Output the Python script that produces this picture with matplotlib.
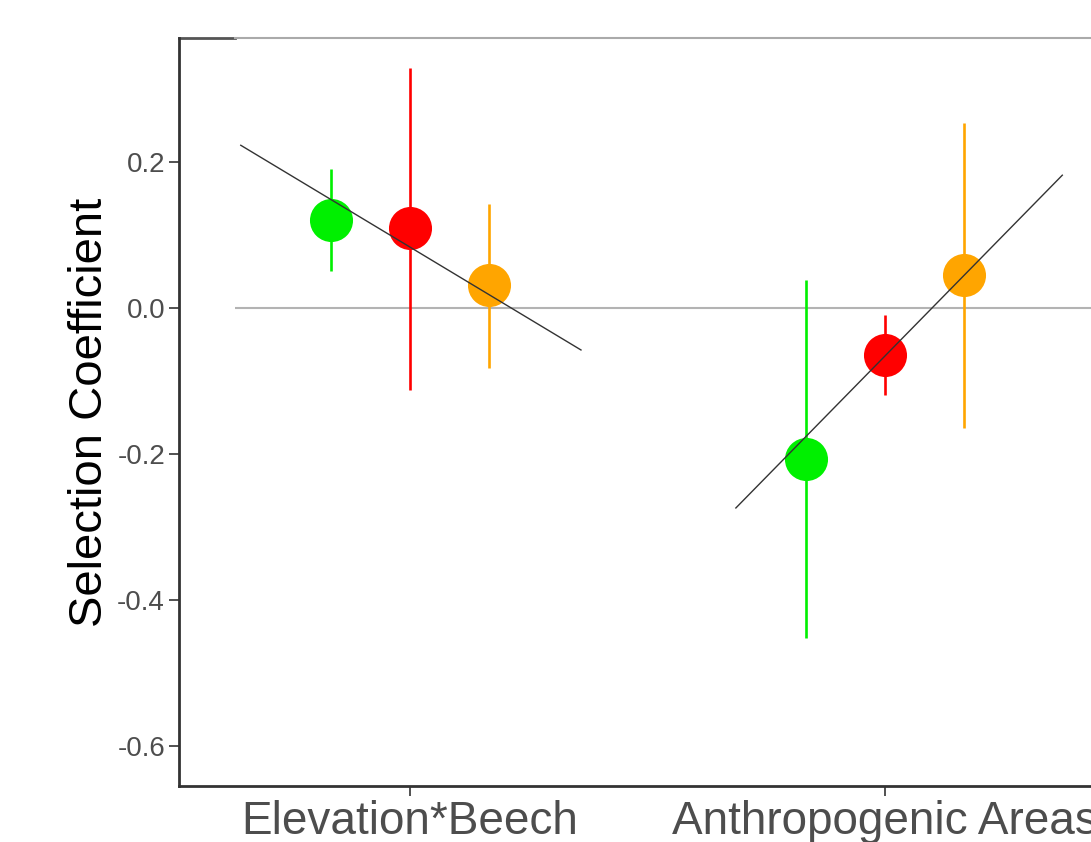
import matplotlib.pyplot as plt
import numpy as np

plt.rcParams['font.family'] = ['Liberation Sans', 'DejaVu Sans']

categories = ["Elevation*Beech", "Anthropogenic Areas"]
groups = ["green", "red", "orange"]
colors = ["#00f000", "#ff0000", "#ffa500"]

# estimates per category (rows) and group (columns)
est = [[0.121, 0.109, 0.031],
       [-0.207, -0.064, 0.045]]
lo = [[0.051, -0.112, -0.082],
      [-0.452, -0.119, -0.165]]
hi = [[0.190, 0.329, 0.142],
      [0.038, -0.010, 0.253]]

# trend line endpoints per category
trend_x = [[0.644, 1.360], [1.686, 2.373]]
trend_y = [[0.223, -0.0575], [-0.274, 0.182]]

yticks = [0.2, 0.0, -0.2, -0.4, -0.6]
dodge = 0.166

fig = plt.figure(figsize=(10.91, 8.42), dpi=100)
W, H = 1091, 842
left, right, top, bottom = 179, 1116, 38, 786
ax = fig.add_axes([left / W, 1 - bottom / H, (right - left) / W, (bottom - top) / H])
ax.set_xlim(0.514, 2.486)
ax.set_ylim(-0.655, 0.370)

# zero reference line
ax.hlines(0, 0.632, 2.486, color="#b3b3b3", lw=1.5, zorder=1)

for i, cat in enumerate(categories):
    xc = i + 1
    for j in range(3):
        x = xc + (j - 1) * dodge
        ax.vlines(x, lo[i][j], hi[i][j], color=colors[j], lw=1.9, zorder=2)
        ax.plot(x, est[i][j], 'o', ms=31, color=colors[j], mec='none', zorder=3)
    ax.plot(trend_x[i], trend_y[i], color="#333333", lw=1.0, zorder=4)

ax.set_xticks([1, 2])
ax.set_xticklabels(categories, fontsize=33, color="#4d4d4d")
ax.set_yticks(yticks)
ax.set_yticklabels(["%.1f" % v for v in yticks], fontsize=20, color="#4d4d4d")
ax.tick_params(axis='both', color="#333333", length=7, width=1.2)
ax.tick_params(axis='x', pad=3)
ax.tick_params(axis='y', pad=3)
ax.set_ylabel("Selection Coefficient", fontsize=34, color="black", labelpad=4)

for s in ["top", "right"]:
    ax.spines[s].set_visible(False)
ax.spines["left"].set_color("#333333")
ax.spines["left"].set_linewidth(2)
ax.spines["bottom"].set_color("#333333")
ax.spines["bottom"].set_linewidth(2)

# top border: dark short piece, then gray
x_split = (235 - left) / (right - left)
ax.plot([0, x_split], [1, 1], transform=ax.transAxes, color="#555555", lw=2, clip_on=False)
ax.plot([x_split, 1], [1, 1], transform=ax.transAxes, color="#aaaaaa", lw=1.5, clip_on=False)

fig.savefig("out.png", dpi=100)
